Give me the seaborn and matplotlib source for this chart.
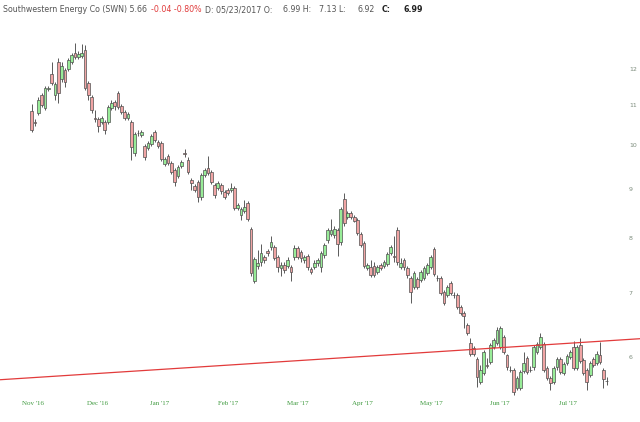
import numpy as np
import pandas as pd
import matplotlib
matplotlib.use("Agg")
import matplotlib.pyplot as plt
from matplotlib.ticker import NullLocator
import seaborn as sns

# Daily OHLC (SWN, Nov '16 - Jul '17)
open_ = [10.85, 10.57, 10.80, 11.28, 10.93, 11.44, 11.87, 11.28, 12.21, 11.73,
         11.98, 12.01, 12.21, 12.48, 12.36, 12.39, 12.57, 11.61, 11.23, 10.67,
         10.65, 10.57, 10.57, 10.57, 10.93, 11.10, 11.33, 10.99, 10.83, 10.67,
         10.57, 9.81, 10.30, 10.25, 9.98, 9.93, 10.02, 10.32, 10.07, 10.05,
         9.55, 9.74, 9.58, 9.41, 9.28, 9.51, 9.81, 9.65, 9.19, 9.06,
         9.15, 8.82, 9.30, 9.46, 9.37, 9.08, 9.01, 9.08, 8.93, 8.97,
         8.97, 9.01, 8.59, 8.45, 8.53, 8.69, 8.17, 7.20, 7.47, 7.54,
         7.63, 7.74, 7.82, 7.82, 7.63, 7.44, 7.49, 7.47, 7.45, 7.63,
         7.80, 7.72, 7.58, 7.65, 7.42, 7.45, 7.53, 7.45, 7.67, 7.95,
         8.07, 8.05, 8.15, 7.91, 8.78, 8.41, 8.49, 8.41, 8.35, 8.07,
         7.89, 7.44, 7.45, 7.47, 7.36, 7.49, 7.47, 7.51, 7.71, 7.65,
         8.15, 7.45, 7.58, 7.44, 7.26, 7.10, 7.24, 7.22, 7.26, 7.35,
         7.45, 7.78, 7.26, 7.26, 7.02, 6.97, 7.17, 6.97, 6.97, 6.77,
         6.67, 6.48, 6.20, 6.13, 5.97, 5.65, 5.77, 5.88, 5.93, 6.14,
         6.20, 6.14, 6.29, 6.03, 5.82, 5.82, 5.57, 5.57, 5.80, 5.99,
         5.82, 5.85, 6.07, 6.14, 6.19, 5.84, 5.71, 5.65, 5.85, 5.97,
         5.77, 5.92, 6.00, 6.14, 5.84, 6.17, 5.96, 5.82, 5.75, 5.97,
         5.92, 6.03, 5.82, 5.66]
close = [10.37, 10.55, 11.15, 11.02, 11.47, 11.47, 11.61, 11.58, 11.33, 12.10,
         11.64, 12.27, 12.42, 12.36, 12.45, 12.48, 11.47, 11.28, 10.88, 10.65,
         10.47, 10.67, 10.37, 10.96, 11.07, 10.99, 10.96, 10.83, 10.67, 10.78,
         9.95, 10.27, 10.29, 10.32, 9.72, 10.05, 10.22, 10.12, 9.98, 9.67,
         9.67, 9.58, 9.37, 9.15, 9.48, 9.60, 9.79, 9.37, 9.12, 8.97,
         8.82, 9.30, 9.41, 9.35, 9.15, 8.86, 9.12, 8.95, 8.82, 8.91,
         9.01, 8.59, 8.65, 8.57, 8.61, 8.37, 7.35, 7.60, 7.53, 7.71,
         7.58, 7.71, 7.91, 7.62, 7.45, 7.49, 7.40, 7.58, 7.36, 7.80,
         7.63, 7.62, 7.63, 7.45, 7.36, 7.53, 7.58, 7.71, 7.86, 8.15,
         8.15, 8.17, 7.87, 8.57, 8.29, 8.49, 8.41, 8.33, 8.09, 7.86,
         7.47, 7.49, 7.31, 7.31, 7.45, 7.44, 7.54, 7.69, 7.82, 7.64,
         7.54, 7.53, 7.45, 7.31, 7.02, 7.35, 7.10, 7.36, 7.44, 7.49,
         7.63, 7.33, 7.25, 7.00, 6.83, 7.10, 7.00, 6.96, 6.77, 6.67,
         6.62, 6.35, 6.05, 6.05, 5.72, 5.81, 6.07, 5.87, 6.17, 6.25,
         6.40, 6.43, 6.07, 5.85, 5.81, 5.51, 5.71, 5.78, 5.92, 5.78,
         5.81, 6.14, 6.19, 6.29, 5.81, 5.71, 5.64, 5.84, 5.97, 5.78,
         5.90, 6.02, 6.07, 5.84, 6.14, 5.94, 5.77, 5.65, 5.92, 5.88,
         6.05, 5.93, 5.69, 5.66]
high = [11.04, 10.65, 11.23, 11.33, 11.53, 11.53, 12.21, 11.64, 12.33, 12.21,
        12.04, 12.33, 12.48, 12.79, 12.54, 12.76, 12.72, 11.67, 11.28, 10.88,
        10.70, 10.72, 10.62, 11.02, 11.15, 11.15, 11.38, 11.04, 10.88, 10.83,
        10.62, 10.32, 10.37, 10.37, 10.02, 10.10, 10.27, 10.37, 10.12, 10.10,
        9.72, 9.79, 9.63, 9.46, 9.53, 9.65, 9.90, 9.72, 9.23, 9.10,
        9.19, 9.35, 9.46, 9.74, 9.41, 9.12, 9.17, 9.12, 8.97, 9.01,
        9.12, 9.06, 8.69, 8.61, 8.76, 8.74, 8.21, 7.63, 7.76, 7.87,
        7.67, 7.78, 8.03, 7.86, 7.67, 7.54, 7.54, 7.63, 7.49, 7.86,
        7.84, 7.76, 7.67, 7.69, 7.45, 7.58, 7.62, 7.74, 7.89, 8.19,
        8.37, 8.23, 8.19, 8.61, 8.91, 8.53, 8.53, 8.45, 8.39, 8.11,
        7.93, 7.53, 7.58, 7.54, 7.49, 7.53, 7.58, 7.72, 7.86, 8.03,
        8.21, 7.62, 7.62, 7.47, 7.29, 7.38, 7.27, 7.40, 7.47, 7.53,
        7.67, 7.82, 7.31, 7.29, 7.05, 7.14, 7.20, 7.02, 7.00, 6.80,
        6.70, 6.51, 6.28, 6.16, 6.00, 5.88, 6.10, 5.99, 6.20, 6.28,
        6.45, 6.46, 6.32, 6.05, 5.87, 5.84, 5.73, 5.81, 6.07, 6.02,
        5.87, 6.17, 6.22, 6.35, 6.22, 5.87, 5.73, 5.87, 6.00, 6.00,
        5.93, 6.05, 6.10, 6.23, 6.17, 6.28, 5.99, 5.84, 5.94, 6.00,
        6.08, 6.22, 5.84, 5.72]
low = [10.32, 10.47, 10.75, 10.96, 10.88, 11.38, 11.56, 11.15, 11.07, 11.64,
       11.50, 11.95, 12.16, 12.30, 12.30, 12.33, 11.41, 11.15, 10.80, 10.57,
       10.32, 10.52, 10.27, 10.52, 10.88, 10.88, 10.91, 10.78, 10.62, 10.62,
       9.65, 9.74, 10.22, 10.20, 9.65, 9.88, 9.98, 10.07, 9.93, 9.63,
       9.51, 9.53, 9.32, 9.06, 9.23, 9.46, 9.72, 9.32, 8.97, 8.93,
       8.72, 8.76, 9.26, 9.30, 9.10, 8.80, 8.97, 8.89, 8.78, 8.86,
       8.93, 8.55, 8.55, 8.35, 8.49, 8.33, 7.29, 7.17, 7.42, 7.47,
       7.53, 7.65, 7.76, 7.58, 7.36, 7.29, 7.35, 7.44, 7.20, 7.58,
       7.60, 7.54, 7.53, 7.40, 7.33, 7.42, 7.47, 7.36, 7.62, 7.89,
       8.03, 7.99, 7.65, 7.86, 8.23, 8.37, 8.37, 8.31, 8.05, 7.82,
       7.44, 7.40, 7.27, 7.27, 7.33, 7.40, 7.44, 7.47, 7.67, 7.54,
       7.49, 7.42, 7.40, 7.26, 6.83, 7.07, 7.07, 7.19, 7.22, 7.31,
       7.42, 7.29, 7.20, 6.97, 6.80, 6.93, 6.97, 6.91, 6.74, 6.64,
       6.43, 6.32, 6.02, 6.02, 5.58, 5.62, 5.75, 5.84, 5.90, 6.11,
       6.17, 6.11, 6.04, 5.82, 5.79, 5.48, 5.54, 5.54, 5.77, 5.76,
       5.79, 5.82, 6.04, 6.11, 5.78, 5.68, 5.54, 5.62, 5.82, 5.76,
       5.75, 5.88, 5.97, 5.81, 5.81, 5.91, 5.75, 5.54, 5.72, 5.85,
       5.88, 5.90, 5.57, 5.61]

month_labels = ["Nov '16", "Dec '16", "Jan '17", "Feb '17", "Mar '17",
                "Apr '17", "May '17", "Jun '17", "Jul '17"]
month_pos = [0.4, 19.9, 38.5, 59.2, 80.0, 99.4, 120.1, 140.8, 161.2]
price_ticks = [6, 7, 8, 9, 10, 11, 12]

# hand-drawn support line
trend_x = [-9.5, 183.0]
trend_y = [5.68, 6.27]

df = pd.DataFrame({"open": open_, "close": close, "high": high, "low": low})
df["day"] = np.arange(len(df))
df["up"] = df["close"] >= df["open"]

sns.set_theme(style="white")

fig = plt.figure(figsize=(6.4, 4.22), dpi=100)
ax = fig.add_axes([0, 0, 1, 1])
ax.set_yscale("log")

# wicks
ax.vlines(df["day"], df["low"], df["high"], color="#5a5a5a", lw=0.7, zorder=1)
# bodies
body_col = np.where(df["up"], "#98ec98", "#f0a4a4")
ax.bar(df["day"], (df["close"] - df["open"]).abs(),
       bottom=np.minimum(df["open"], df["close"]), width=0.82,
       color=body_col, edgecolor="#505050", linewidth=0.5, zorder=2)

sns.lineplot(x=trend_x, y=trend_y, color="#e23b3b", lw=0.9, ax=ax, zorder=3)

ax.set_xlim(-9.54, 183.0)
ax.set_ylim(5.13, 14.18)
for s in ax.spines.values():
    s.set_visible(False)

ax.set_yticks(price_ticks, [str(t) for t in price_ticks])
ax.yaxis.set_minor_locator(NullLocator())
ax.yaxis.tick_right()
ax.tick_params(axis="y", length=0, pad=-8, labelsize=4.5, labelcolor="#7c8c7c")

ax.set_xticks(month_pos, month_labels)
ax.tick_params(axis="x", length=0, pad=-15, labelsize=5, labelcolor="#3f9a3f")
for lab in ax.get_xticklabels():
    lab.set_family("Liberation Serif")

# header line
ty = 1 - 10 / 422
hdr = dict(fontsize=5.7, va="center", color="#555555", family="DejaVu Sans")
fig.text(3 / 640, ty, "Southwestern Energy Co (SWN) 5.66", **hdr)
fig.text(151 / 640, ty, "-0.04 -0.80%", **{**hdr, "color": "#e03a3a"})
fig.text(205 / 640, ty, "D: 05/23/2017 O:", **hdr)
fig.text(283 / 640, ty, "6.99 H:", **hdr)
fig.text(319 / 640, ty, "7.13 L:", **hdr)
fig.text(358 / 640, ty, "6.92", **hdr)
fig.text(382 / 640, ty, "C:", **{**hdr, "weight": "bold", "color": "#222222"})
fig.text(403 / 640, ty, "6.99", **{**hdr, "weight": "bold", "color": "#222222"})

fig.savefig("out.png", dpi=100)
